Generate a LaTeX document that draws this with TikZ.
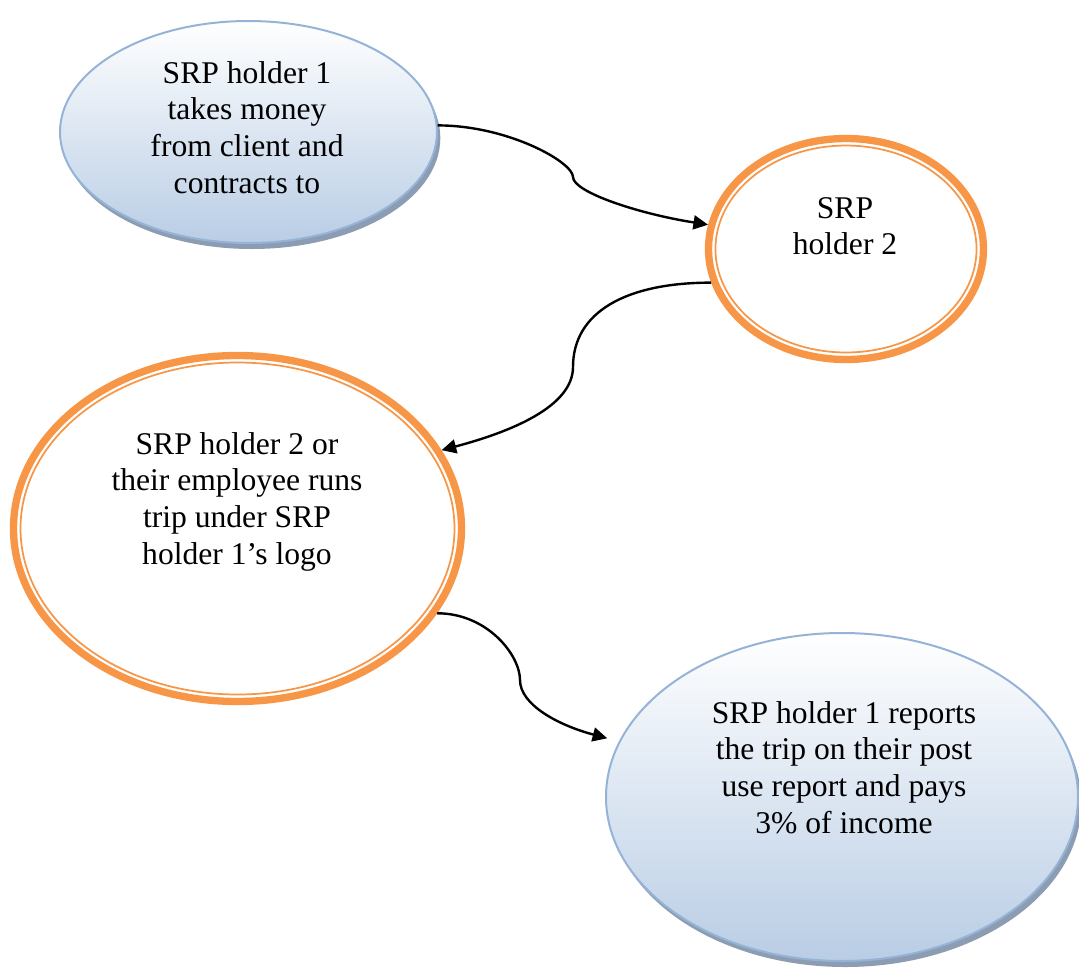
\documentclass[tikz,border=0pt]{standalone}
\usepackage{fontspec}
\setmainfont{Liberation Serif}
\usetikzlibrary{shapes.geometric,shadows,arrows.meta}
\definecolor{ringorange}{RGB}{247,150,70}
\definecolor{bluerim}{RGB}{149,179,215}
\definecolor{bluefill}{RGB}{185,205,229}
\definecolor{blueshadow}{RGB}{128,145,170}

\begin{document}
\begin{tikzpicture}[x=0.75pt,y=0.75pt]
\tikzset{bulle/.style={ellipse, draw=bluerim, line width=1.5pt, top color=white, bottom color=bluefill, inner sep=0pt, drop shadow={shadow xshift=2.5pt, shadow yshift=-4.5pt, fill=blueshadow, opacity=0.9}}}
\tikzset{anneau/.style={ellipse, draw=ringorange, line width=5.5pt, fill=white, inner sep=0pt}}
\tikzset{filet/.style={draw=ringorange, line width=1.3pt}}
\tikzset{texte/.style={anchor=north, align=center, inner sep=0pt, font=\fontsize{23.7pt}{27.5pt}\selectfont}}
\tikzset{fleche/.style={line width=1.8pt, -{Triangle[length=11pt,width=10.5pt]}}}
\useasboundingbox (0,0) rectangle (1079,-968);
\node[bulle, minimum width=282.75pt, minimum height=166.5pt] (S1) at (248.5,-132) {};
\node[anneau, minimum width=206.25pt, minimum height=165.75pt] (S2) at (846,-249) {};
\node[anneau, minimum width=336pt, minimum height=259.5pt] (S3) at (237.5,-528.5) {};
\node[bulle, minimum width=354pt, minimum height=246pt] (S4) at (842,-797) {};
\draw[filet] (S2.center) ellipse [x radius=97.9pt, y radius=77.6pt];
\draw[filet] (S3.center) ellipse [x radius=162.75pt, y radius=124.5pt];
\node[texte] (T1) at (247,-61) {SRP holder 1\\takes money\\from client and\\contracts to};
\node[texte] (T2) at (845,-197) {SRP\\holder 2};
\node[texte] (T3) at (237,-432) {SRP holder 2 or\\their employee runs\\trip under SRP\\holder 1’s logo};
\node[texte] (T4) at (844,-701) {SRP holder 1 reports\\the trip on their post\\use report and pays\\3\% of income};
\coordinate (M1) at (573,-177);
\coordinate (M2) at (573,-367);
\coordinate (M3) at (520,-680);
\draw[fleche] (S1.2) .. controls +(70,0) and +(0,15) .. (M1) .. controls +(0,-15) and +(-70,11) .. (S2.170);
\draw[fleche] (S2.194) .. controls +(-85,0) and +(0,55) .. (M2) .. controls +(0,-40) and +(68,18) .. (S3.21);
\draw[fleche, shorten >=9pt] (S3.-23) .. controls +(50,0) and +(0,25) .. (M3) .. controls +(0,-25) and +(-60,16) .. (S4.166);
\end{tikzpicture}
\end{document}
